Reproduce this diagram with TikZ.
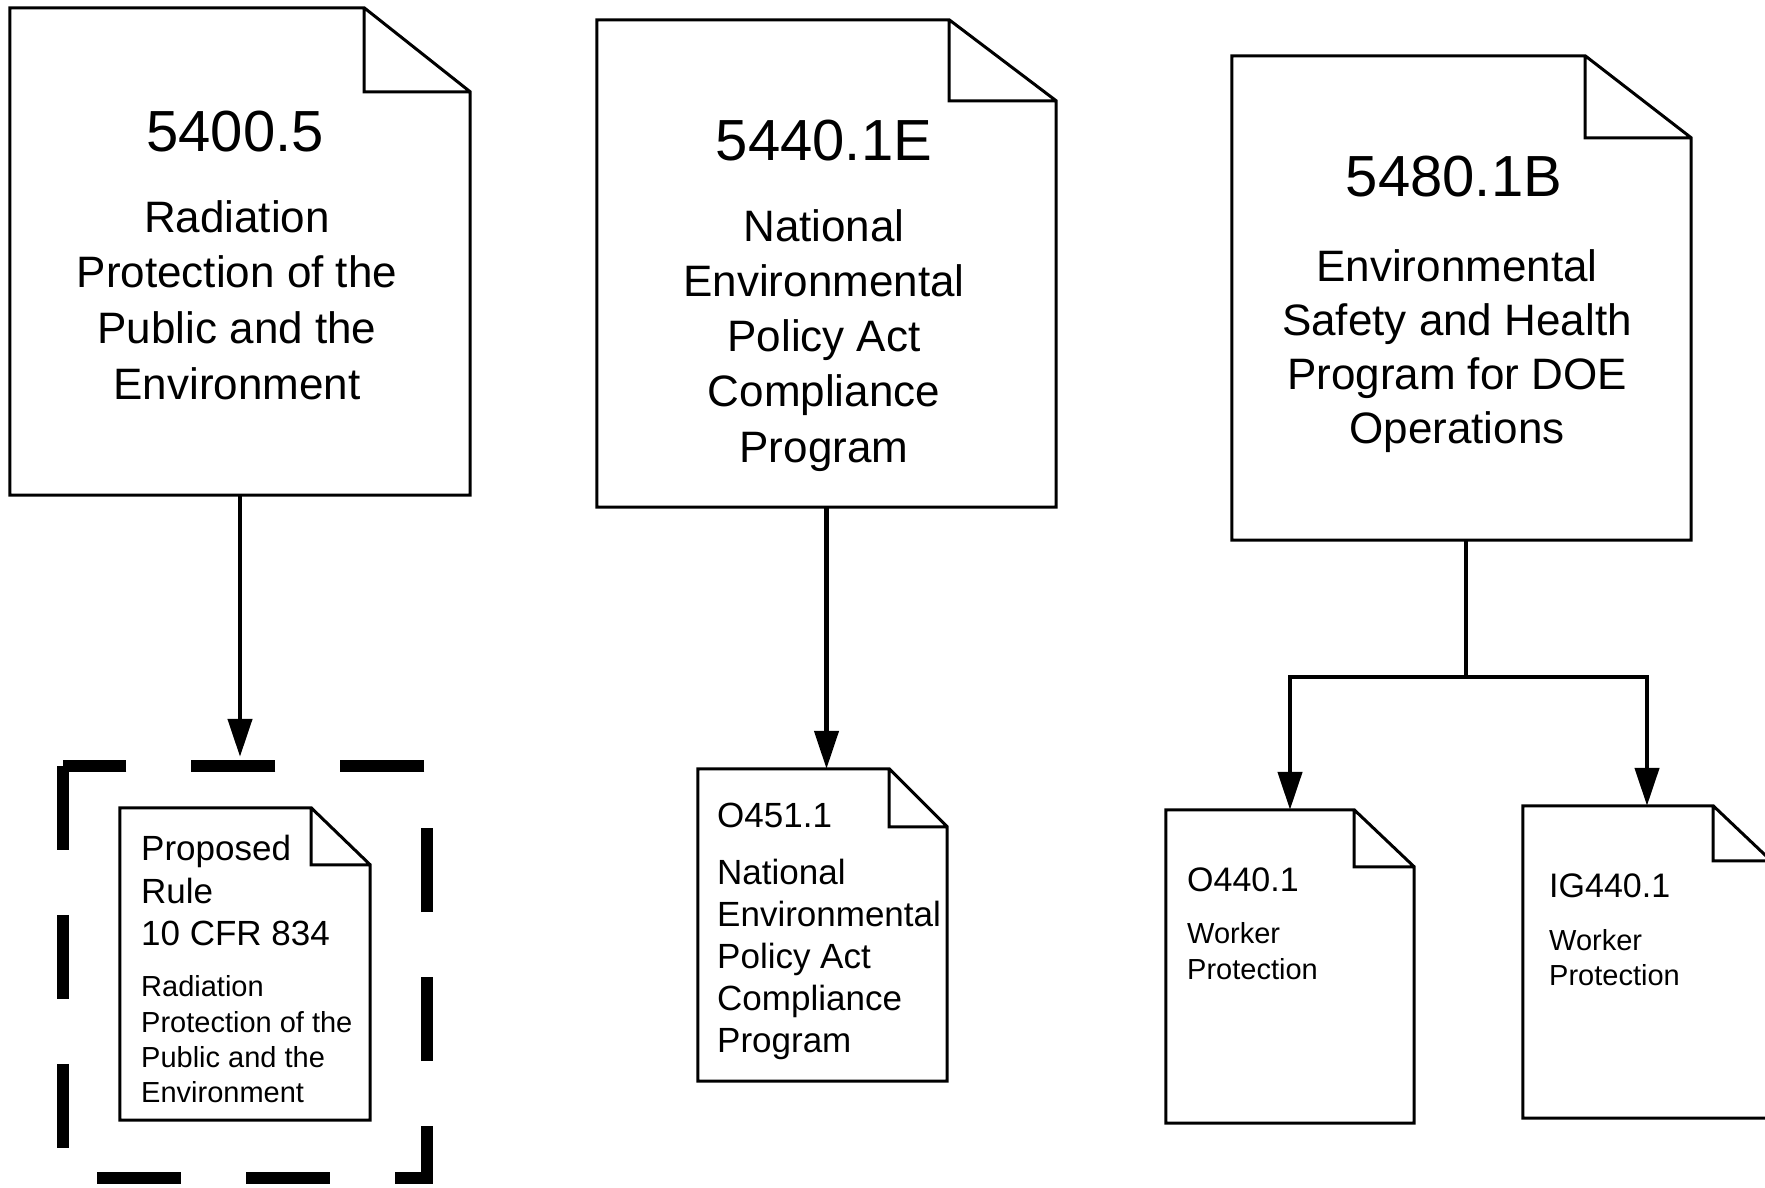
\documentclass[tikz,border=0pt]{standalone}
\usepackage{fontspec}
\setmainfont{Liberation Sans}
\usetikzlibrary{arrows.meta,positioning,calc}

\begin{document}
\begin{tikzpicture}[x=1pt,y=-1pt]
  \tikzstyle{page}=[rectangle,inner sep=0pt]
  \tikzstyle{edge}=[line width=3pt,line join=miter]
  \tikzstyle{arrow}=[line width=4.5pt,-{Triangle[length=38pt,width=24pt]}]
  \tikzstyle{dashbox}=[rectangle,minimum width=364pt,minimum height=412pt]
  \tikzstyle{dashline}=[line width=12pt,dash pattern=on 84pt off 65pt]
  \tikzstyle{bignum}=[inner sep=0pt,anchor=north,font=\fontsize{58}{58}\selectfont]
  \tikzstyle{smallnum}=[inner sep=0pt,anchor=north west,font=\fontsize{34}{34}\selectfont]
  \useasboundingbox (0,0) rectangle (1765,1188);
  \clip (0,0) rectangle (1765,1188);

  % pages
  \node[page,minimum width=460,minimum height=487] (p1) at (240,251.5) {};
  \node[page,minimum width=459,minimum height=487] (p2) at (826.5,263.5) {};
  \node[page,minimum width=459,minimum height=484] (p3) at (1461.5,298) {};
  \node[page,minimum width=250,minimum height=312] (p0) at (245,964) {};
  \node[page,minimum width=249,minimum height=312] (p4) at (822.5,925) {};
  \node[page,minimum width=248,minimum height=313] (p5) at (1290,966.5) {};
  \node[page,minimum width=248,minimum height=312] (p6) at (1647,962) {};
  \node[dashbox] (rulebox) at (245,972) {};
  \draw[dashline] (rulebox.north west) -- (rulebox.south west) -- (rulebox.south east)
    -- (rulebox.north east) -- cycle;

  \foreach \n/\fw/\fh in {p1/106/84,p2/107/81,p3/106/82,p0/59/57,p4/58/58,p5/60/57,p6/58/55}
    \draw[edge] (\n.south west) -- (\n.north west) -- ([xshift=-\fw]\n.north east)
      -- ([yshift=-\fh]\n.north east) -- (\n.south east) -- cycle
      ([xshift=-\fw]\n.north east) |- ([yshift=-\fh]\n.north east);

  % texts of the big pages
  \node[bignum] (t1) at (235,111) {5400.5};
  \node[inner sep=0pt,anchor=north,align=center,font=\fontsize{44}{55.7}\selectfont] (b1) at (237,200)
    {Radiation\\Protection of the\\Public and the\\Environment};
  \node[bignum] (t2) at (824,120) {5440.1E};
  \node[inner sep=0pt,anchor=north,align=center,font=\fontsize{44}{55.3}\selectfont] (b2) at (824,209)
    {National\\Environmental\\Policy Act\\Compliance\\Program};
  \node[bignum] (t3) at (1454,156) {5480.1B};
  \node[inner sep=0pt,anchor=north,align=center,font=\fontsize{44}{54.3}\selectfont] (b3) at (1457,249)
    {Environmental\\Safety and Health\\Program for DOE\\Operations};

  % texts of the small pages
  \node[inner sep=0pt,anchor=north west,align=left,font=\fontsize{35}{42.5}\selectfont] (r1) at (141,835)
    {Proposed\\Rule\\10 CFR 834};
  \node[inner sep=0pt,anchor=north west,align=left,font=\fontsize{29}{35.3}\selectfont] (r2) at (141,975.5)
    {Radiation\\Protection of the\\Public and the\\Environment};
  \node[smallnum,font=\fontsize{35}{35}\selectfont] (s1) at (717,803) {O451.1};
  \node[inner sep=0pt,anchor=north west,align=left,font=\fontsize{35}{42}\selectfont] (s2) at (717,859)
    {National\\Environmental\\Policy Act\\Compliance\\Program};
  \node[smallnum] (u1) at (1187,868) {O440.1};
  \node[inner sep=0pt,anchor=north west,align=left,font=\fontsize{29}{36}\selectfont] (u2) at (1187,922)
    {Worker\\Protection};
  \node[smallnum] (v1) at (1549,874) {IG440.1};
  \node[inner sep=0pt,anchor=north west,align=left,font=\fontsize{29}{35}\selectfont] (v2) at (1549,929)
    {Worker\\Protection};

  % connectors
  \draw[arrow,shorten >=9pt] (p1.south) -- (p1.south |- rulebox.north);
  \draw[arrow] (p2.south) -- (p2.south |- p4.north);
  \coordinate (fork) at (1466,677);
  \draw[line width=4.5pt] (fork |- p3.south) -- (fork);
  \draw[arrow] (fork) -| (p5.north);
  \draw[arrow] (fork) -| (p6.north);
\end{tikzpicture}
\end{document}
